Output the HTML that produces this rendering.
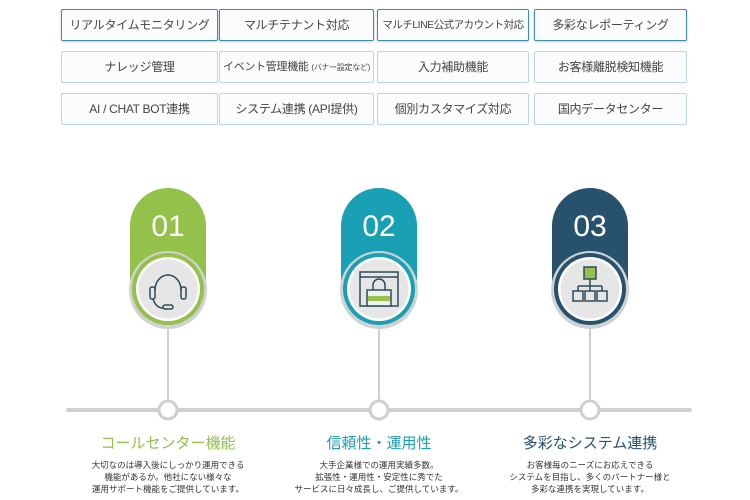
<!DOCTYPE html>
<html><head><meta charset="utf-8"><style>
body{margin:0;width:750px;height:500px;background:#fff;overflow:hidden;font-family:"Liberation Sans","Noto Sans CJK JP",sans-serif;position:relative}
.b{position:absolute;height:30px;line-height:30px;text-align:center;font-size:12px;color:#444;border:1px solid #b8d8e8;border-radius:2px;background:#fafcfd;white-space:nowrap;overflow:hidden;letter-spacing:-0.3px}
.r1{border-color:#3d8bb0;border-width:1.5px;box-shadow:0 1px 2px rgba(0,0,0,.2)}
.t{position:absolute;width:220px;text-align:center;font-size:15px;top:432px}
.d{position:absolute;width:220px;text-align:center;font-size:8.5px;color:#333;line-height:12px;top:459px}
</style></head><body>
<div class="b r1" style="left:61px;top:9px;width:155px">リアルタイムモニタリング</div>
<div class="b r1" style="left:219px;top:9px;width:153px">マルチテナント対応</div>
<div class="b r1" style="left:377px;top:9px;width:150px;font-size:10.5px;letter-spacing:-0.5px">マルチLINE公式アカウント対応</div>
<div class="b r1" style="left:534px;top:9px;width:151px">多彩なレポーティング</div>
<div class="b" style="left:61px;top:51px;width:155px">ナレッジ管理</div>
<div class="b" style="left:219px;top:51px;width:153px;font-size:11px">イベント管理機能 <span style="font-size:8px">(バナー設定など)</span></div>
<div class="b" style="left:377px;top:51px;width:150px">入力補助機能</div>
<div class="b" style="left:534px;top:51px;width:151px">お客様離脱検知機能</div>
<div class="b" style="left:61px;top:93px;width:155px">AI / CHAT BOT連携</div>
<div class="b" style="left:219px;top:93px;width:153px">システム連携 (API提供)</div>
<div class="b" style="left:377px;top:93px;width:150px">個別カスタマイズ対応</div>
<div class="b" style="left:534px;top:93px;width:151px">国内データセンター</div>

<svg width="750" height="500" style="position:absolute;left:0;top:0">
<line x1="68" y1="410" x2="690" y2="410" stroke="#d0d0d0" stroke-width="4" stroke-linecap="round"/>
<g stroke="#cfcfcf" stroke-width="2">
<line x1="168" y1="325" x2="168" y2="400"/><line x1="379" y1="325" x2="379" y2="400"/><line x1="590" y1="325" x2="590" y2="400"/></g>
<g fill="#fff" stroke="#cfcfcf" stroke-width="3">
<circle cx="168" cy="410" r="9"/><circle cx="379" cy="410" r="9"/><circle cx="590" cy="410" r="9"/></g>
<g font-family="Liberation Sans,sans-serif" font-size="30" fill="#fff" text-anchor="middle">
<path d="M130 226a38 38 0 0 1 76 0v62h-76z" fill="#93c149"/>
<path d="M341 226a38 38 0 0 1 76 0v62h-76z" fill="#19a0b4"/>
<path d="M552 226a38 38 0 0 1 76 0v62h-76z" fill="#27516d"/>
<text x="168" y="236">01</text><text x="379" y="236">02</text><text x="590" y="236">03</text>
</g>
<g>
<circle cx="168" cy="290" r="39" fill="#cfd2d2"/><circle cx="168" cy="289" r="36" fill="#93c149"/><circle cx="168" cy="289" r="32" fill="#fff"/><circle cx="168" cy="289" r="29.5" fill="#e6e6e6"/>
<circle cx="379" cy="290" r="39" fill="#cfd2d2"/><circle cx="379" cy="289" r="36" fill="#19a0b4"/><circle cx="379" cy="289" r="32" fill="#fff"/><circle cx="379" cy="289" r="29.5" fill="#e6e6e6"/>
<circle cx="590" cy="290" r="39" fill="#cfd2d2"/><circle cx="590" cy="289" r="36" fill="#27516d"/><circle cx="590" cy="289" r="32" fill="#fff"/><circle cx="590" cy="289" r="29.5" fill="#e6e6e6"/>
</g>
<g fill="none" stroke="#2d4a5c" stroke-width="1.5">
<path d="M155 290a13 15 0 0 1 26 0"/><rect x="150" y="287" width="5" height="12" rx="2"/><rect x="181" y="287" width="5" height="12" rx="2"/>
<path d="M153 299q3 9 10 9"/><rect x="163" y="305" width="10" height="4" rx="2"/>
<rect x="360" y="272" width="38" height="34"/><line x1="360" y1="277" x2="398" y2="277"/>
<path d="M373 290v-5a6 6 0 0 1 12 0v5"/><rect x="367" y="290" width="24" height="16" fill="#f0f0f0"/>
<rect x="584" y="267" width="12" height="12" fill="#93c149"/>
<path d="M590 279v7M578 286h24M578 286v5M590 286v5M602 286v5"/>
<rect x="573" y="291" width="10" height="10"/><rect x="585" y="291" width="10" height="10"/><rect x="597" y="291" width="10" height="10"/>
</g>
<path d="M368 296h22v5h-22z" fill="#93c149"/>
</svg>
<div class="t" style="left:58px;color:#93c149">コールセンター機能</div>
<div class="t" style="left:269px;color:#19a0b4">信頼性・運用性</div>
<div class="t" style="left:480px;color:#27516d">多彩なシステム連携</div>
<div class="d" style="left:58px">大切なのは導入後にしっかり運用できる<br>機能があるか。他社にない様々な<br>運用サポート機能をご提供しています。</div>
<div class="d" style="left:269px">大手企業様での運用実績多数。<br>拡張性・運用性・安定性に秀でた<br>サービスに日々成長し、ご提供しています。</div>
<div class="d" style="left:480px">お客様毎のニーズにお応えできる<br>システムを目指し、多くのパートナー様と<br>多彩な連携を実現しています。</div>
</body></html>
